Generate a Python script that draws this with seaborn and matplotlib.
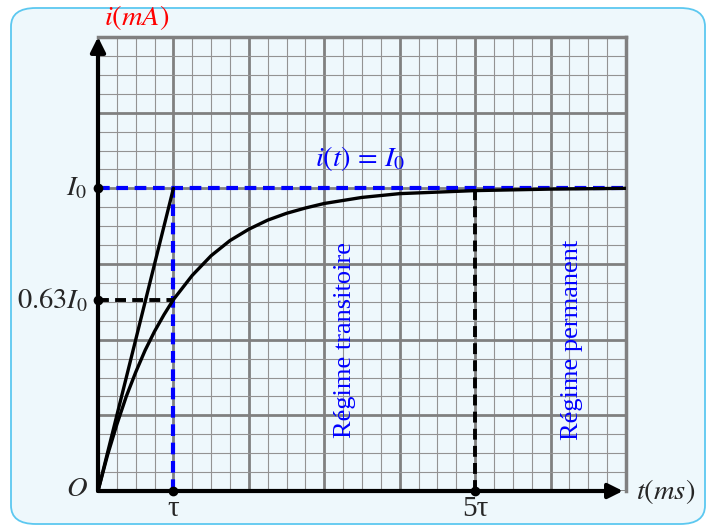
import numpy as np
import pandas as pd
import matplotlib
matplotlib.use("Agg")
import matplotlib.pyplot as plt
from matplotlib.patches import FancyBboxPatch
import seaborn as sns

# === Données (t en unités de tau, i en graduations) ===
t_vals = [0, 0.125, 0.25, 0.375, 0.5, 0.625, 0.75, 0.875, 1.0, 1.25, 1.5, 1.75, 2.0, 2.25,
          2.5, 2.75, 3.0, 3.5, 4.0, 4.5, 5.0, 5.5, 6.0, 7.0]
i_vals = [0, 0.47, 0.88, 1.25, 1.57, 1.86, 2.11, 2.33, 2.53, 2.85, 3.11, 3.31, 3.46, 3.58,
          3.67, 3.74, 3.80, 3.88, 3.93, 3.95, 3.97, 3.98, 3.99, 4.0]
tangente_t = [0, 1]
tangente_i = [0, 4]
I0 = 4.0
I063 = 2.52
tau = 1.0
cinq_tau = 5.0
t_max = 7
i_max = 6

df = pd.DataFrame({"t": t_vals, "i": i_vals})

sns.set_style("white")
plt.rcParams["font.family"] = ["Liberation Serif", "DejaVu Serif"]
plt.rcParams["mathtext.fontset"] = "stix"

fig = plt.figure(figsize=(7.1, 5.26), dpi=100)
fig.patch.set_facecolor("white")

# cadre arrondi bleu clair
box = FancyBboxPatch((11 / 710, 2 / 526), 694 / 710, 516 / 526,
                     boxstyle="round,pad=0,rounding_size=0.035",
                     transform=fig.transFigure, facecolor="#eef8fc",
                     edgecolor="#5cc8f0", linewidth=1.3, zorder=-10)
fig.patches.append(box)

ax = fig.add_axes([98 / 710, 35 / 526, 528 / 710, 454 / 526])
ax.set_facecolor("none")
ax.set_xlim(0, t_max)
ax.set_ylim(0, i_max)

# === Papier millimétré ===
ax.set_xticks(np.arange(0, t_max + 1, 1))
ax.set_yticks(np.arange(0, i_max + 1, 1))
ax.set_xticks(np.arange(0, t_max, 0.25), minor=True)
ax.set_yticks(np.arange(0, i_max, 0.25), minor=True)
ax.grid(which="minor", color="#939393", lw=0.8, zorder=1)
ax.grid(which="major", color="#808080", lw=2.0, zorder=1)
ax.tick_params(which="both", length=0, labelbottom=False, labelleft=False)
for s in ["top", "right"]:
    ax.spines[s].set_color("#808080")
    ax.spines[s].set_linewidth(2.5)
for s in ["left", "bottom"]:
    ax.spines[s].set_visible(False)

# === Pointillés ===
ax.plot([0, t_max], [I0, I0], color="blue", ls=(0, (2.8, 1.6)), lw=3, zorder=3)
ax.plot([tau, tau], [0, I0], color="blue", ls=(0, (2.8, 1.6)), lw=3, zorder=3)
ax.plot([0, tau], [I063, I063], color="black", ls=(0, (2.8, 1.6)), lw=2.8, zorder=3)
ax.plot([cinq_tau, cinq_tau], [0, I0], color="black", ls=(0, (2.8, 1.6)), lw=2.8, zorder=3)

# === Courbe i(t) et tangente ===
sns.lineplot(data=df, x="t", y="i", color="black", lw=2.4, ax=ax, zorder=4)
ax.plot(tangente_t, tangente_i, color="black", lw=2.4, zorder=4)

# === Axes avec flèches ===
ax.annotate("", xy=(t_max - 0.04, 0), xytext=(0, 0),
            arrowprops=dict(arrowstyle="-|>", lw=3, color="black", mutation_scale=22,
                            shrinkA=0, shrinkB=0), annotation_clip=False, zorder=5)
ax.annotate("", xy=(0, i_max), xytext=(0, 0),
            arrowprops=dict(arrowstyle="-|>", lw=3, color="black", mutation_scale=22,
                            shrinkA=0, shrinkB=0), annotation_clip=False, zorder=5)

ax.plot([0, 0, tau, cinq_tau], [I0, I063, 0, 0], "o", color="black", ms=6,
        clip_on=False, zorder=6)

# === Textes ===
ax.text(0.52, 6.26, "$i(mA)$", color="red", fontsize=20.5, ha="center", va="center")
ax.text(t_max + 0.13, 0, "$t(ms)$", fontsize=20.5, ha="left", va="center")
ax.text(-0.14, I0, "$I_0$", fontsize=20.5, ha="right", va="center")
ax.text(-0.14, I063, "$0.63I_0$", fontsize=20.5, ha="right", va="center")
ax.text(-0.14, 0.02, "$O$", fontsize=20.5, ha="right", va="center")
ax.text(tau, -0.06, "τ", fontsize=21, ha="center", va="top")
ax.text(cinq_tau, -0.06, "5τ", fontsize=21, ha="center", va="top")
ax.text(2.88, 4.4, r"$i(t)\,=\,I_0$", color="blue", fontsize=20.5, ha="left", va="center")
ax.text(3.28, 2.0, "Régime transitoire", color="blue", fontsize=19, rotation=90,
        ha="center", va="center")
ax.text(6.28, 2.0, "Régime permanent", color="blue", fontsize=19, rotation=90,
        ha="center", va="center")

ax.set_xlabel("")
ax.set_ylabel("")
fig.savefig("out.png", dpi=100)
